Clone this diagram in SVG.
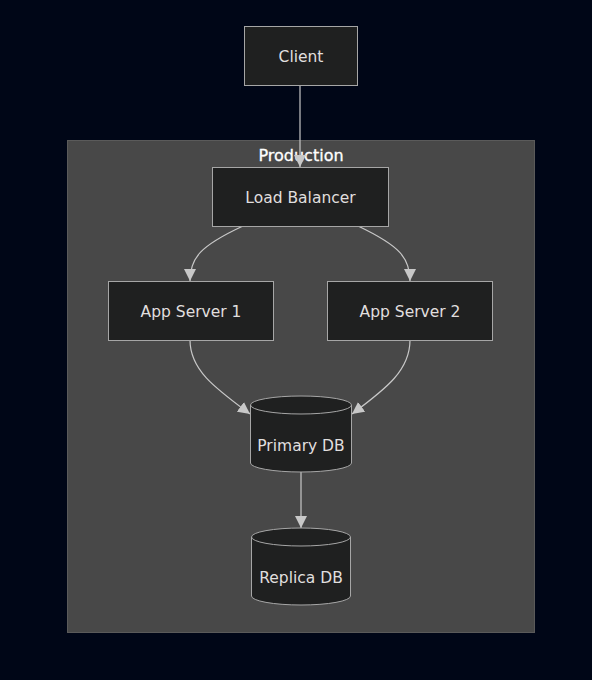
<svg xmlns="http://www.w3.org/2000/svg" width="592" height="680" viewBox="0 0 592 680">
<style>
.node rect,.node path{fill:#1f2020;stroke:#a6a6a6;stroke-width:1}
.lbl{font-family:"DejaVu Sans",Verdana,sans-serif;font-size:15.5px;fill:#e0dfdf;text-anchor:middle;dominant-baseline:central}
.edge{fill:none;stroke:#c8c8c8;stroke-width:1.2}
</style>
<defs>
<marker id="arr" viewBox="0 0 10 10" refX="10" refY="5" markerWidth="12" markerHeight="12" markerUnits="userSpaceOnUse" orient="auto">
<path d="M0,0 L10,5 L0,10 z" fill="#c8c8c8"/>
</marker>
</defs>
<rect width="592" height="680" fill="#000617"/>
<g id="cluster-production">
<rect x="67.5" y="140.5" width="467" height="492" fill="#484848" stroke="#5a5a5a"/>
<text x="301" y="155" class="lbl" style="fill:#ffffff;font-size:16px;stroke:#ffffff;stroke-width:0.3">Production</text>
</g>
<g id="connectors">
<path class="edge" d="M300,85 L300,167" marker-end="url(#arr)"/>
<path class="edge" d="M243,226 C200,246 190,258 190,281" marker-end="url(#arr)"/>
<path class="edge" d="M358,226 C400,246 410,258 410,281" marker-end="url(#arr)"/>
<path class="edge" d="M190,340 C190,370 215,388 250,414" marker-end="url(#arr)"/>
<path class="edge" d="M410,340 C410,370 387,388 352,414" marker-end="url(#arr)"/>
<path class="edge" d="M301,472 L301,528" marker-end="url(#arr)"/>
</g>
<g id="client" class="node">
<rect x="244.5" y="26.5" width="113" height="59"/>
<text x="301" y="57" class="lbl">Client</text>
</g>
<g id="load-balancer" class="node">
<rect x="212.5" y="167.5" width="176" height="59"/>
<text x="300.5" y="198" class="lbl">Load Balancer</text>
</g>
<g id="app-server-1" class="node">
<rect x="108.5" y="281.5" width="165" height="59"/>
<text x="191" y="312" class="lbl">App Server 1</text>
</g>
<g id="app-server-2" class="node">
<rect x="327.5" y="281.5" width="165" height="59"/>
<text x="410" y="312" class="lbl">App Server 2</text>
</g>
<g id="primary-db" class="node">
<path d="M250.5,405 A50.5,9 0 0 1 351.5,405 L351.5,463 A50.5,9 0 0 1 250.5,463 Z"/>
<path d="M250.5,405 A50.5,9 0 0 0 351.5,405" style="fill:none"/>
<text x="301" y="446" class="lbl">Primary DB</text>
</g>
<g id="replica-db" class="node">
<path d="M251.5,537 A49.5,9 0 0 1 350.5,537 L350.5,596 A49.5,9 0 0 1 251.5,596 Z"/>
<path d="M251.5,537 A49.5,9 0 0 0 350.5,537" style="fill:none"/>
<text x="301" y="578" class="lbl">Replica DB</text>
</g>
</svg>
